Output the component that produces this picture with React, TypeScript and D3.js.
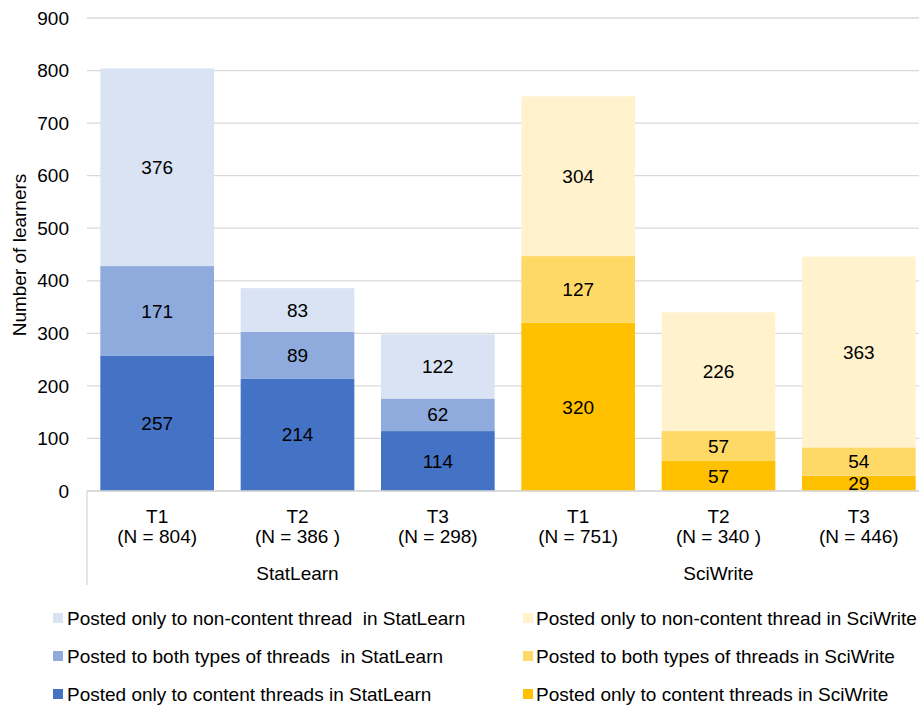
import React from "react";
import * as d3 from "d3";

// Courses and time points along the x axis
const courses = ["StatLearn", "SciWrite"];
const periods = ["T1", "T2", "T3"];
const totalsLabel = ["(N = 804)", "(N = 386 )", "(N = 298)", "(N = 751)", "(N = 340 )", "(N = 446)"];

// Learners per posting type, one entry per bar (StatLearn T1..T3, SciWrite T1..T3)
const contentOnly = [257, 214, 114, 320, 57, 29];
const bothTypes = [171, 89, 62, 127, 57, 54];
const nonContentOnly = [376, 83, 122, 304, 226, 363];

const yTicks = [0, 100, 200, 300, 400, 500, 600, 700, 800, 900];

const legendStat = [
  "Posted only to non-content thread  in StatLearn",
  "Posted to both types of threads  in StatLearn",
  "Posted only to content threads in StatLearn",
];
const legendSci = [
  "Posted only to non-content thread in SciWrite",
  "Posted to both types of threads in SciWrite",
  "Posted only to content threads in SciWrite",
];

const palette = {
  StatLearn: { content: "#4472C4", both: "#8FAADC", non: "#DAE3F3" },
  SciWrite: { content: "#FFC000", both: "#FFD966", non: "#FFF2CC" },
};

const W = 919;
const H = 706;
const FONT = "'Liberation Sans', Arial, sans-serif";
const FS = 19;

export default function App() {
  const left = 87;
  const right = 929;
  const top = 18;
  const bottom = 491;

  const keys = courses.flatMap((c) => periods.map((p) => `${c}-${p}`));
  const x = d3.scaleBand<string>().domain(keys).range([left, right]).paddingInner(0.19).paddingOuter(0.095);
  const y = d3.scaleLinear().domain([0, 900]).range([bottom, top]);

  const rows = keys.map((k, i) => ({
    key: k,
    course: courses[Math.floor(i / 3)],
    period: periods[i % 3],
    content: contentOnly[i],
    both: bothTypes[i],
    non: nonContentOnly[i],
  }));
  const stack = d3.stack<any>().keys(["content", "both", "non"])(rows);

  const span = (right - left) / courses.length;
  const groupMid = courses.map((c, gi) => ({ c, mid: left + gi * span + span / 2 }));

  return (
    <svg width={W} height={H} style={{ display: "block", position: "absolute", left: 0, top: 0, background: "#fff" }}>
      {/* gridlines */}
      {yTicks.map((t) => (
        <line key={t} x1={left} x2={W} y1={y(t)} y2={y(t)} stroke="#D9D9D9" strokeWidth={1.3} />
      ))}
      {/* y tick labels */}
      {yTicks.map((t) => (
        <text key={t} x={69} y={y(t)} dy="0.35em" textAnchor="end" fontFamily={FONT} fontSize={FS} fill="#000">
          {t}
        </text>
      ))}
      <text transform={`translate(26,255) rotate(-90)`} textAnchor="middle" fontFamily={FONT} fontSize={FS} fill="#000">
        Number of learners
      </text>

      {/* stacked bars */}
      {stack.map((layer) =>
        layer.map((d, i) => {
          const row = rows[i];
          const col = (palette as any)[row.course][layer.key as string];
          const y0 = y(d[0]);
          const y1 = y(d[1]);
          return (
            <rect key={`${layer.key}-${i}`} x={x(row.key)} width={x.bandwidth()} y={y1} height={y0 - y1} fill={col} />
          );
        })
      )}
      {/* value labels */}
      {stack.map((layer) =>
        layer.map((d, i) => {
          const row = rows[i];
          const cx = (x(row.key) as number) + x.bandwidth() / 2;
          const cy = y((d[0] + d[1]) / 2);
          return (
            <text
              key={`lab-${layer.key}-${i}`}
              x={cx}
              y={cy}
              dy="0.35em"
              textAnchor="middle"
              fontFamily={FONT}
              fontSize={FS}
              fill="#000"
            >
              {d[1] - d[0]}
            </text>
          );
        })
      )}

      {/* category axis */}
      <line x1={left} x2={W} y1={bottom} y2={bottom} stroke="#D9D9D9" strokeWidth={1.3} />
      <line x1={left} x2={left} y1={bottom} y2={585} stroke="#D9D9D9" strokeWidth={1.3} />
      {rows.map((r, i) => {
        const cx = (x(r.key) as number) + x.bandwidth() / 2;
        return (
          <g key={`cat-${r.key}`} fontFamily={FONT} fontSize={FS} fill="#000" textAnchor="middle">
            <text x={cx} y={523}>{r.period}</text>
            <text x={cx} y={543} style={{ whiteSpace: "pre" }}>{totalsLabel[i]}</text>
          </g>
        );
      })}
      {groupMid.map((g) => (
        <text key={g.c} x={g.mid} y={580} textAnchor="middle" fontFamily={FONT} fontSize={FS} fill="#000">
          {g.c}
        </text>
      ))}

      {/* legend */}
      {legendStat.map((t, i) => {
        const colors = [palette.StatLearn.non, palette.StatLearn.both, palette.StatLearn.content];
        const cy = 618 + i * 38;
        return (
          <g key={t}>
            <rect x={53} y={cy - 5} width={10} height={10} fill={colors[i]} />
            <text x={67} y={cy} dy="0.36em" fontFamily={FONT} fontSize={FS} fill="#000" style={{ whiteSpace: "pre" }}>
              {t}
            </text>
          </g>
        );
      })}
      {legendSci.map((t, i) => {
        const colors = [palette.SciWrite.non, palette.SciWrite.both, palette.SciWrite.content];
        const cy = 618 + i * 38;
        return (
          <g key={t}>
            <rect x={523} y={cy - 5} width={10} height={10} fill={colors[i]} />
            <text x={536} y={cy} dy="0.36em" fontFamily={FONT} fontSize={FS} fill="#000" style={{ whiteSpace: "pre" }}>
              {t}
            </text>
          </g>
        );
      })}
    </svg>
  );
}
